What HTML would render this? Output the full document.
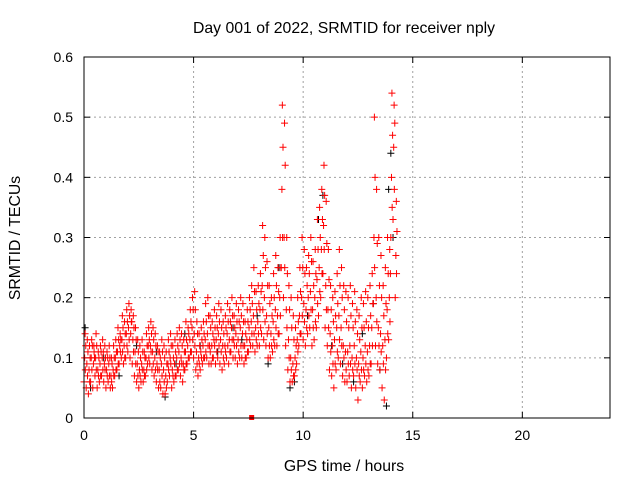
<!DOCTYPE html>
<html><head><meta charset="utf-8">
<style>
body{margin:0;background:#fff;}
svg{display:block;font-family:"Liberation Sans",sans-serif;}
</style></head>
<body>
<svg id="chart" width="640" height="480" viewBox="0 0 640 480">
<rect width="640" height="480" fill="#fff"/>
<text x="344" y="33" font-size="15.8" text-anchor="middle">Day 001 of 2022, SRMTID for receiver nply</text>
<text x="344" y="471" font-size="15.8" text-anchor="middle">GPS time / hours</text>
<text transform="translate(20,238) rotate(-90)" font-size="15.8" text-anchor="middle">SRMTID / TECUs</text>
<g id="grid"></g>
<g id="ticks"></g>
<g id="marks"></g>
<rect x="84" y="57" width="526" height="361" fill="none" stroke="#000" stroke-width="1"/>
</svg>
<script>
const xTicks=[0,5,10,15,20];
const yTicks=[0,0.1,0.2,0.3,0.4,0.5,0.6];
const yTickLabels=["0","0.1","0.2","0.3","0.4","0.5","0.6"];
const stepStart=0, stepSize=0.1;
const hiVals=[.14,.13,.12,.13,.12,.14,.11,.12,.13,.12,.11,.12,.10,.12,.13,.15,.14,.17,.16,.18,.19,.18,.17,.15,.13,.12,.13,.11,.14,.15,.16,.15,.14,.12,.11,.13,.12,.11,.13,.14,.12,.13,.14,.15,.14,.13,.16,.15,.18,.20,.21,.16,.14,.15,.16,.19,.20,.17,.16,.18,.17,.19,.18,.16,.17,.19,.18,.20,.17,.19,.18,.20,.19,.16,.18,.20,.22,.25,.21,.22,.24,.32,.30,.26,.22,.20,.24,.27,.25,.30,.52,.49,.30,.22,.20,.17,.15,.20,.25,.30,.28,.25,.27,.30,.26,.28,.33,.35,.38,.42,.36,.28,.22,.20,.21,.24,.28,.25,.22,.21,.20,.22,.19,.21,.18,.17,.20,.19,.21,.20,.22,.24,.50,.38,.30,.27,.22,.25,.30,.28,.54,.52,.36];
const q3Vals=[.12,.11,.10,.12,.10,.12,.10,.11,.11,.10,.10,.10,.09,.10,.11,.13,.13,.15,.14,.16,.17,.16,.15,.13,.11,.10,.11,.10,.12,.13,.14,.13,.12,.11,.10,.11,.10,.09,.11,.12,.10,.11,.12,.13,.12,.11,.13,.14,.16,.18,.18,.14,.12,.13,.14,.16,.17,.15,.14,.15,.15,.16,.15,.14,.15,.16,.16,.17,.15,.16,.16,.17,.16,.14,.16,.18,.19,.21,.18,.19,.21,.27,.25,.22,.19,.17,.20,.22,.21,.25,.45,.42,.24,.18,.15,.13,.12,.16,.21,.25,.24,.22,.24,.26,.22,.24,.28,.30,.33,.37,.29,.23,.18,.16,.17,.19,.22,.20,.18,.16,.15,.17,.15,.16,.14,.13,.15,.15,.16,.15,.17,.19,.40,.29,.22,.20,.17,.19,.24,.24,.47,.49,.31];
const midVals=[.10,.09,.08,.10,.09,.10,.08,.09,.10,.09,.08,.09,.07,.08,.10,.11,.12,.13,.12,.14,.15,.14,.13,.11,.09,.08,.09,.08,.10,.12,.12,.11,.10,.09,.08,.09,.08,.07,.09,.10,.08,.09,.10,.11,.10,.09,.11,.12,.13,.15,.14,.11,.10,.11,.12,.13,.14,.12,.12,.13,.13,.14,.13,.12,.12,.14,.13,.15,.13,.14,.13,.15,.14,.12,.13,.15,.16,.17,.15,.16,.18,.22,.20,.17,.15,.14,.16,.18,.17,.20,.38,.30,.18,.13,.10,.09,.10,.13,.17,.20,.19,.18,.20,.21,.18,.20,.23,.25,.28,.32,.22,.18,.14,.12,.13,.15,.17,.15,.12,.11,.11,.12,.10,.12,.10,.09,.11,.10,.12,.11,.12,.15,.30,.20,.15,.14,.12,.13,.18,.20,.40,.45,.27];
const q1Vals=[.08,.07,.06,.08,.11,.08,.07,.07,.08,.08,.07,.07,.06,.07,.08,.09,.11,.11,.10,.12,.13,.16,.11,.09,.07,.07,.08,.07,.08,.10,.11,.09,.08,.08,.06,.07,.06,.05,.08,.09,.07,.07,.08,.09,.09,.08,.09,.10,.11,.13,.12,.09,.09,.10,.10,.11,.12,.11,.10,.12,.11,.12,.11,.10,.11,.12,.11,.13,.12,.12,.11,.12,.12,.10,.11,.13,.14,.14,.13,.14,.15,.18,.16,.14,.12,.12,.13,.15,.14,.17,.30,.25,.15,.10,.08,.07,.08,.11,.14,.17,.16,.15,.17,.18,.15,.16,.19,.21,.24,.28,.18,.15,.11,.09,.09,.11,.13,.12,.10,.08,.09,.09,.08,.09,.08,.07,.08,.08,.09,.08,.09,.12,.25,.16,.12,.11,.09,.08,.14,.16,.35,.38,.24];
const loVals=[.06,.05,.04,.06,.05,.07,.05,.06,.07,.06,.05,.06,.05,.05,.07,.08,.09,.10,.09,.10,.11,.10,.09,.07,.06,.05,.06,.06,.07,.09,.09,.08,.07,.06,.05,.05,.04,.04,.06,.07,.05,.06,.07,.08,.07,.06,.08,.09,.10,.11,.10,.08,.07,.08,.09,.10,.10,.09,.09,.10,.09,.10,.09,.08,.09,.10,.09,.11,.10,.10,.09,.10,.10,.09,.10,.11,.12,.12,.11,.12,.12,.14,.13,.12,.10,.10,.11,.12,.12,.14,.25,.20,.12,.08,.06,.06,.07,.09,.12,.14,.13,.12,.14,.15,.12,.13,.15,.17,.20,.24,.15,.12,.08,.07,.05,.08,.10,.09,.07,.06,.06,.07,.05,.07,.05,.03,.06,.05,.07,.06,.07,.09,.19,.12,.09,.08,.05,.03,.10,.13,.30,.33,.20];
const blackTimes=[0.05,0.3,0.9,1.6,2.4,3.3,3.7,4.2,4.6,5.3,6.1,6.8,7.2,7.9,8.4,8.9,9.4,9.6,10.2,10.7,10.9,11.3,11.8,12.3,12.7,13.2,13.5,13.8,14.0,14.1,13.9];
const blackVals=[0.15,0.05,0.10,0.07,0.12,0.11,0.035,0.09,0.14,0.12,0.11,0.15,0.13,0.17,0.09,0.25,0.05,0.06,0.17,0.33,0.37,0.12,0.09,0.06,0.14,0.19,0.08,0.02,0.44,0.30,0.38];
const outlierTime=[7.65], outlierVal=[0];

const X0=84,X1=610,Y0=418,Y1=57;
const xs=t=>X0+(t/24)*(X1-X0);
const ys=v=>Y0-(v/0.6)*(Y0-Y1);
const NS="http://www.w3.org/2000/svg";
function mk(tag,attrs,parent){const e=document.createElementNS(NS,tag);for(const k in attrs)e.setAttribute(k,attrs[k]);parent.appendChild(e);return e;}
const grid=document.getElementById('grid'),ticks=document.getElementById('ticks'),marks=document.getElementById('marks');
xTicks.forEach(t=>{
  const x=xs(t);
  if(t>0){const g=mk('line',{x1:x,x2:x,y1:Y0,y2:Y1,stroke:'#a0a0a0','stroke-dasharray':'2,3','stroke-width':1},grid);
  
  }
  mk('line',{x1:x,x2:x,y1:Y0,y2:Y0-6,stroke:'#000'},ticks);
  mk('line',{x1:x,x2:x,y1:Y1,y2:Y1+6,stroke:'#000'},ticks);
  const l=mk('text',{x:x,y:Y0+22,'font-size':14,'text-anchor':'middle'},ticks);l.textContent=t;
  
  
});
yTicks.forEach((v,i)=>{
  const y=ys(v);
  if(v>0&&v<0.6){const g=mk('line',{x1:X0,x2:X1,y1:y,y2:y,stroke:'#a0a0a0','stroke-dasharray':'2,3','stroke-width':1},grid);
  
  }
  mk('line',{x1:X0,x2:X0+6,y1:y,y2:y,stroke:'#000'},ticks);
  mk('line',{x1:X1,x2:X1-6,y1:y,y2:y,stroke:'#000'},ticks);
  const l=mk('text',{x:X0-11,y:y+5,'font-size':14,'text-anchor':'end'},ticks);l.textContent=yTickLabels[i];
  
  
});
function plus(t,v,color,name){
  const x=xs(t),y=ys(v);
  const p=mk('path',{d:`M${x-3.5},${y}h7M${x},${y-3.5}v7`,stroke:color,'stroke-width':1,fill:'none'},marks);
  
  
}
blackTimes.forEach((t,i)=>plus(t,blackVals[i],'#000','black-point'));
[[loVals,0.0],[q1Vals,0.06],[midVals,0.03],[q3Vals,0.08],[hiVals,0.05]].forEach(([arr,off])=>{
  arr.forEach((v,i)=>plus(stepStart+i*stepSize+off,v,'#f00','red-point'));
});
outlierTime.forEach((t,i)=>{
  const r=mk('rect',{x:xs(t)-2.5,y:ys(outlierVal[i])-3,width:5,height:5,fill:'#f00'},marks);
  
  
});
</script>
</body></html>
